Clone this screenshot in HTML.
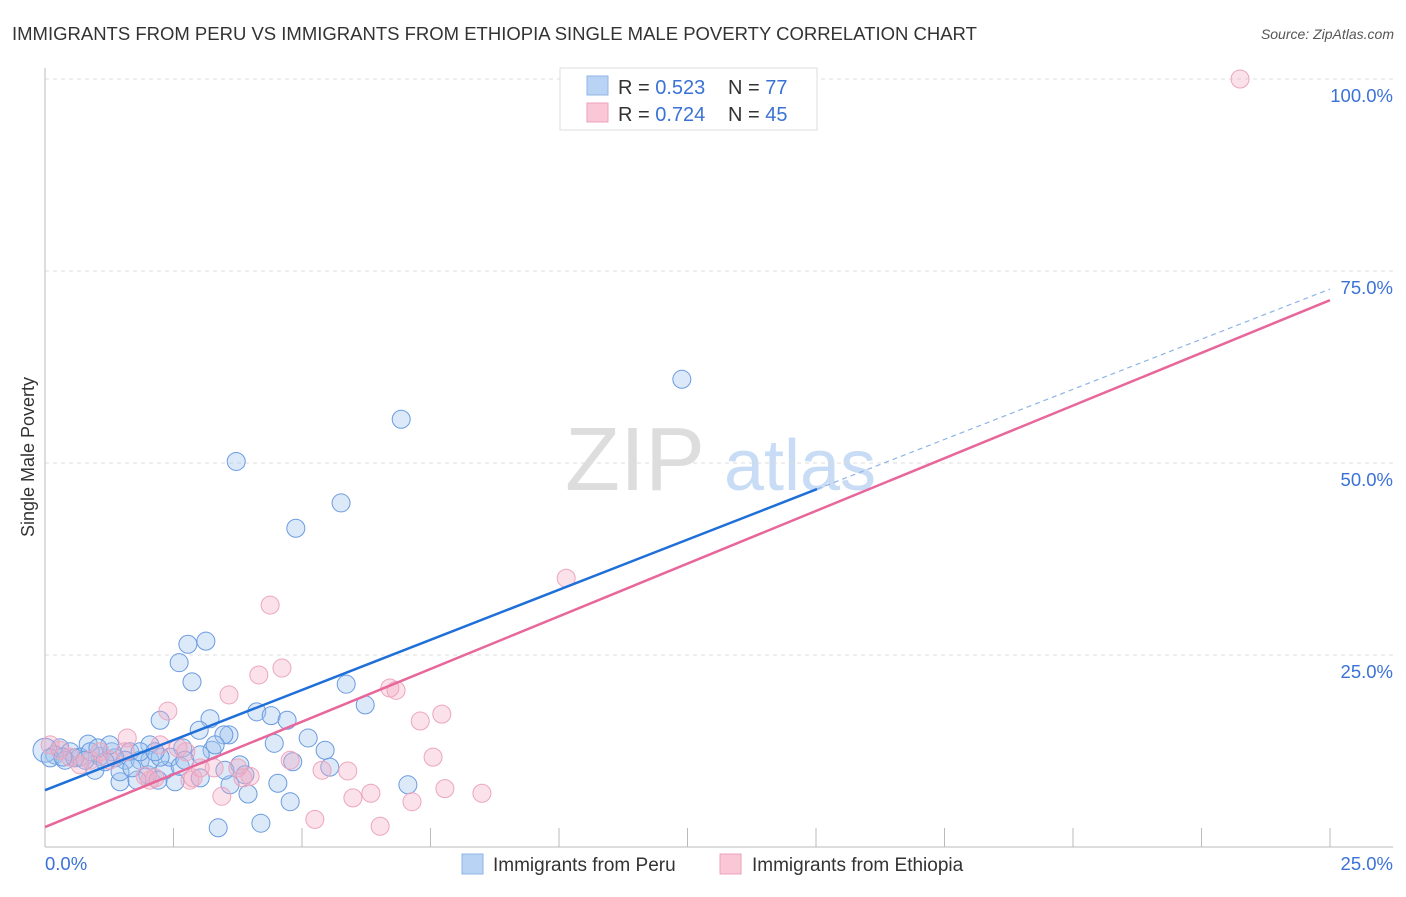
<!DOCTYPE html>
<html><head><meta charset="utf-8"><style>
body{margin:0;background:#fff;font-family:"Liberation Sans",sans-serif;}
svg text{font-family:"Liberation Sans",sans-serif;}
</style></head><body>
<svg id="chart" width="1406" height="892" xmlns="http://www.w3.org/2000/svg">
<text x="12" y="40" font-size="18.5" fill="#333">IMMIGRANTS FROM PERU VS IMMIGRANTS FROM ETHIOPIA SINGLE MALE POVERTY CORRELATION CHART</text>
<text x="1394" y="39" font-size="14" fill="#555" font-style="italic" text-anchor="end">Source: ZipAtlas.com</text>
<text x="34" y="457" font-size="18" fill="#333" text-anchor="middle" transform="rotate(-90 34 457)">Single Male Poverty</text>
<g><text x="635" y="490" font-size="90" fill="#ddd" font-family="Liberation Serif" text-anchor="middle">ZIP</text><text x="800" y="490" font-size="72" fill="#c8dcf5" text-anchor="middle">atlas</text></g>
<g id="grid"></g><g id="axes"></g><g id="pts"></g><g id="lines"></g>
<g>
<rect x="560" y="68" width="257" height="62" fill="#fff" stroke="#ddd"/>
<rect x="587" y="76" width="21" height="19" fill="#b9d3f5" stroke="#8fb4e6"/>
<rect x="587" y="103" width="21" height="19" fill="#f9c7d6" stroke="#eea2ba"/>
<text x="618" y="94" font-size="20" fill="#333">R = <tspan fill="#3a72d6">0.523</tspan></text>
<text x="728" y="94" font-size="20" fill="#333">N = <tspan fill="#3a72d6">77</tspan></text>
<text x="618" y="121" font-size="20" fill="#333">R = <tspan fill="#3a72d6">0.724</tspan></text>
<text x="728" y="121" font-size="20" fill="#333">N = <tspan fill="#3a72d6">45</tspan></text>
</g>
<g>
<rect x="462" y="854" width="21" height="20" fill="#b9d3f5" stroke="#8fb4e6"/>
<text x="493" y="871" font-size="19" fill="#333">Immigrants from Peru</text>
<rect x="720" y="854" width="21" height="20" fill="#f9c7d6" stroke="#eea2ba"/>
<text x="752" y="871" font-size="19" fill="#333">Immigrants from Ethiopia</text>
</g>
</svg>
<script>
const peruX=[12.39,6.93,3.72,5.76,4.88,2.78,3.13,2.61,2.86,5.86,2.24,3.21,4.12,4.40,4.71,6.23,3.58,3.00,3.48,5.12,4.46,5.45,4.82,2.68,3.25,3.79,5.54,7.06,4.53,3.95,4.77,3.37,4.20,2.53,2.00,1.46,1.79,2.33,1.65,2.04,0.84,0.29,0.49,0.68,1.07,1.30,1.56,1.85,0.97,2.04,1.36,0.19,0.0,0.10,0.39,0.58,1.17,2.43,2.24,3.02,3.60,2.20,2.63,1.46,1.69,0.88,0.78,1.26,1.03,1.85,3.02,2.72,3.31,3.89,3.50,2.14,0.35];
const peruY=[60.9,55.7,50.2,44.8,41.5,26.4,26.8,24.0,21.5,21.2,16.5,16.7,17.6,17.1,16.5,18.5,14.6,15.2,14.6,14.2,13.5,12.6,11.1,12.9,12.6,10.7,10.4,8.1,8.3,6.9,5.9,2.5,3.1,8.5,9.4,8.5,8.7,10.0,12.4,13.3,13.4,12.9,12.4,11.7,11.8,12.4,11.3,11.3,10.0,11.3,11.6,12.0,12.6,11.6,11.3,11.6,11.1,11.7,11.7,9.0,8.1,8.7,10.5,9.8,10.3,12.4,11.3,13.3,12.9,12.4,12.0,11.3,13.3,9.4,10.0,12.4,11.7];
const ethX=[23.25,10.14,4.38,4.61,4.16,3.58,2.39,6.71,6.83,7.30,7.72,1.60,7.55,4.77,5.39,5.89,3.75,3.99,3.02,3.29,2.74,2.04,2.14,1.95,2.82,2.88,3.44,5.99,6.34,7.14,7.78,8.50,5.25,6.52,3.85,2.24,1.07,0.49,0.29,0.68,1.26,1.56,2.59,0.10,0.88];
const ethY=[100,35.0,31.5,23.3,22.4,19.8,17.7,20.7,20.4,16.4,17.3,14.2,11.7,11.3,10.0,9.9,10.3,9.2,10.3,10.3,12.4,8.7,9.0,9.2,8.7,9.0,6.6,6.4,7.0,5.9,7.6,7.0,3.6,2.7,9.0,13.3,12.4,11.7,12.6,10.7,11.3,12.4,12.9,13.3,11.3];
const peruLine=[7.4,2.61];
const ethLine=[2.6,2.744];
const yTicks=[25,50,75,100];
const yTickLabels=["25.0%","50.0%","75.0%","100.0%"];
const xTicks=[2.5,5,7.5,10,12.5,15,17.5,20,22.5,25];
const NS="http://www.w3.org/2000/svg";
const X=v=>45+v*51.4, Y=v=>847-v*7.68;
function mk(p,t,a){const e=document.createElementNS(NS,t);for(const k in a)e.setAttribute(k,a[k]);document.getElementById(p).appendChild(e);return e;}
yTicks.forEach((t,i)=>{
 const g=mk('grid','line',{x1:45,x2:1393,y1:Y(t),y2:Y(t),stroke:'#ddd','stroke-dasharray':'4,4'});
 
 
 const l=mk('axes','text',{x:1393,y:Y(t)+23,'font-size':18.5,fill:'#3a72d6','text-anchor':'end'});
 l.textContent=yTickLabels[i];
 
 
});
let a=mk('axes','line',{x1:45,x2:45,y1:68,y2:847,stroke:'#bbb'});


a=mk('axes','line',{x1:45,x2:1393,y1:847,y2:847,stroke:'#bbb'});


xTicks.forEach(t=>{const e=mk('axes','line',{x1:X(t),x2:X(t),y1:828,y2:847,stroke:'#bbb'});
 
 });
let tl=mk('axes','text',{x:45,y:870,'font-size':18.5,fill:'#3a72d6'});tl.textContent='0.0%';


tl=mk('axes','text',{x:1393,y:870,'font-size':18.5,fill:'#3a72d6','text-anchor':'end'});tl.textContent='25.0%';


peruX.forEach((x,i)=>{const c=mk('pts','circle',{cx:X(x),cy:Y(peruY[i]),r:x===0?12:9,fill:'rgba(160,196,240,0.38)',stroke:'#6b9be0','stroke-width':1});
 
 });
ethX.forEach((x,i)=>{const c=mk('pts','circle',{cx:X(x),cy:Y(ethY[i]),r:9,fill:'rgba(244,170,195,0.35)',stroke:'#eca6be','stroke-width':1});
 
 });
const pl=v=>peruLine[0]+peruLine[1]*v, el=v=>ethLine[0]+ethLine[1]*v;
let ln=mk('lines','line',{x1:X(0),y1:Y(pl(0)),x2:X(15.02),y2:Y(pl(15.02)),stroke:'#1f6fd8','stroke-width':2.5});


ln=mk('lines','line',{x1:X(15.02),y1:Y(pl(15.02)),x2:X(25),y2:Y(pl(25)),stroke:'#8fb4e6','stroke-width':1.2,'stroke-dasharray':'5,4'});


ln=mk('lines','line',{x1:X(0),y1:Y(el(0)),x2:X(25),y2:Y(el(25)),stroke:'#e8679a','stroke-width':2.5});


</script>
</body></html>
